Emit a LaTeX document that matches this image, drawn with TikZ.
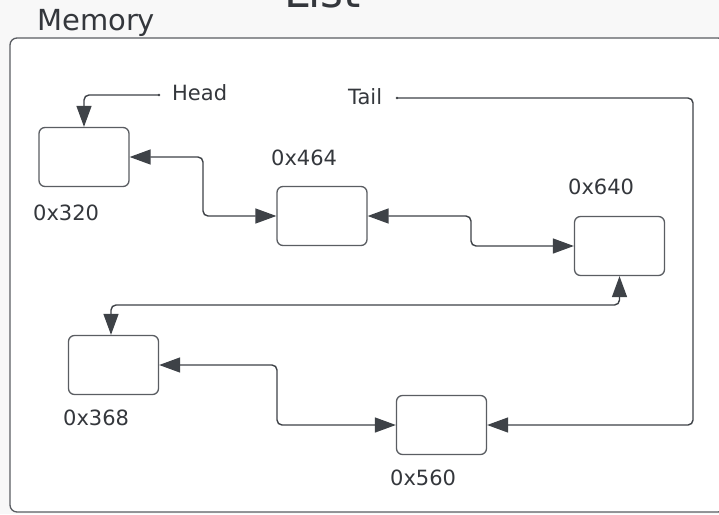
\documentclass[tikz,border=0pt]{standalone}
\usepackage{fontspec}
\setmainfont{DejaVu Sans}
\usetikzlibrary{arrows.meta}
\definecolor{txt}{HTML}{34373C}
\definecolor{ln}{HTML}{3E4247}
\definecolor{bx}{HTML}{5A5D62}
\definecolor{bg}{HTML}{F8F8F8}
\tikzset{
  memnode/.style={draw=bx, line width=1.3pt, rounded corners=6pt, fill=white, minimum width=90pt, minimum height=59pt, inner sep=0pt},
  lbl/.style={text=txt, font=\fontsize{21}{24}\selectfont, inner sep=0pt, anchor=west},
  link/.style={draw=ln, line width=1.4pt, rounded corners=5pt},
  tip/.style={-{Triangle[length=21pt,width=15pt]}},
  tips/.style={{Triangle[length=21pt,width=15pt]}-{Triangle[length=21pt,width=15pt]}},
}
\begin{document}
\begin{tikzpicture}[x=1pt,y=-1pt]
\useasboundingbox (0,0) rectangle (719,514);
\clip (0,0) rectangle (719,514);
\fill[bg] (0,0) rectangle (719,514);
\node[text=txt, font=\fontsize{44}{48}\selectfont, inner sep=0pt, anchor=base west] (title) at (284,8) {List};
\node[text=txt, font=\fontsize{29}{32}\selectfont, inner sep=0pt, anchor=base west] (memlbl) at (37,30) {Memory};
\draw[draw=bx, line width=1.3pt, rounded corners=7pt, fill=white] (10,38) rectangle (725,512);

% nodes
\node[memnode] (n320) at (84,157) {};
\node[memnode] (n464) at (322,216) {};
\node[memnode] (n640) at (619.5,246) {};
\node[memnode] (n368) at (113.5,365) {};
\node[memnode] (n560) at (441.5,425) {};

% labels
\node[lbl] (l320) at (33,213) {0x320};
\node[lbl] (l464) at (271,158) {0x464};
\node[lbl] (l640) at (568,187) {0x640};
\node[lbl] (l368) at (63,418) {0x368};
\node[lbl] (l560) at (390,478) {0x560};
\node[lbl] (head) at (172,93) {Head};
\node[lbl] (tail) at (348,97) {Tail};

\coordinate (hs) at (159,95);
\coordinate (ts) at (397,98);
\coordinate (c368) at (111,0);
\fill[ln] (hs) circle (1.3pt);
\fill[ln] (ts) circle (1.3pt);

% connectors
\draw[link,tip] (hs) -| (n320.north);
\draw[link,tips] (n320.east) -- (203,157) -- (203,216) -- (n464.west);
\draw[link,tips] (n464.east) -- (471,216) -- (471,246) -- (n640.west);
\draw[link,tips] (n640.south) -- (619.5,305) -- (111,305) -- (c368 |- n368.north);
\draw[link,tips] (n368.east) -- (277,365) -- (277,425) -- (n560.west);
\draw[link,tip] (ts) -- (693,98) -- (693,425) -- (n560.east);
\end{tikzpicture}
\end{document}
